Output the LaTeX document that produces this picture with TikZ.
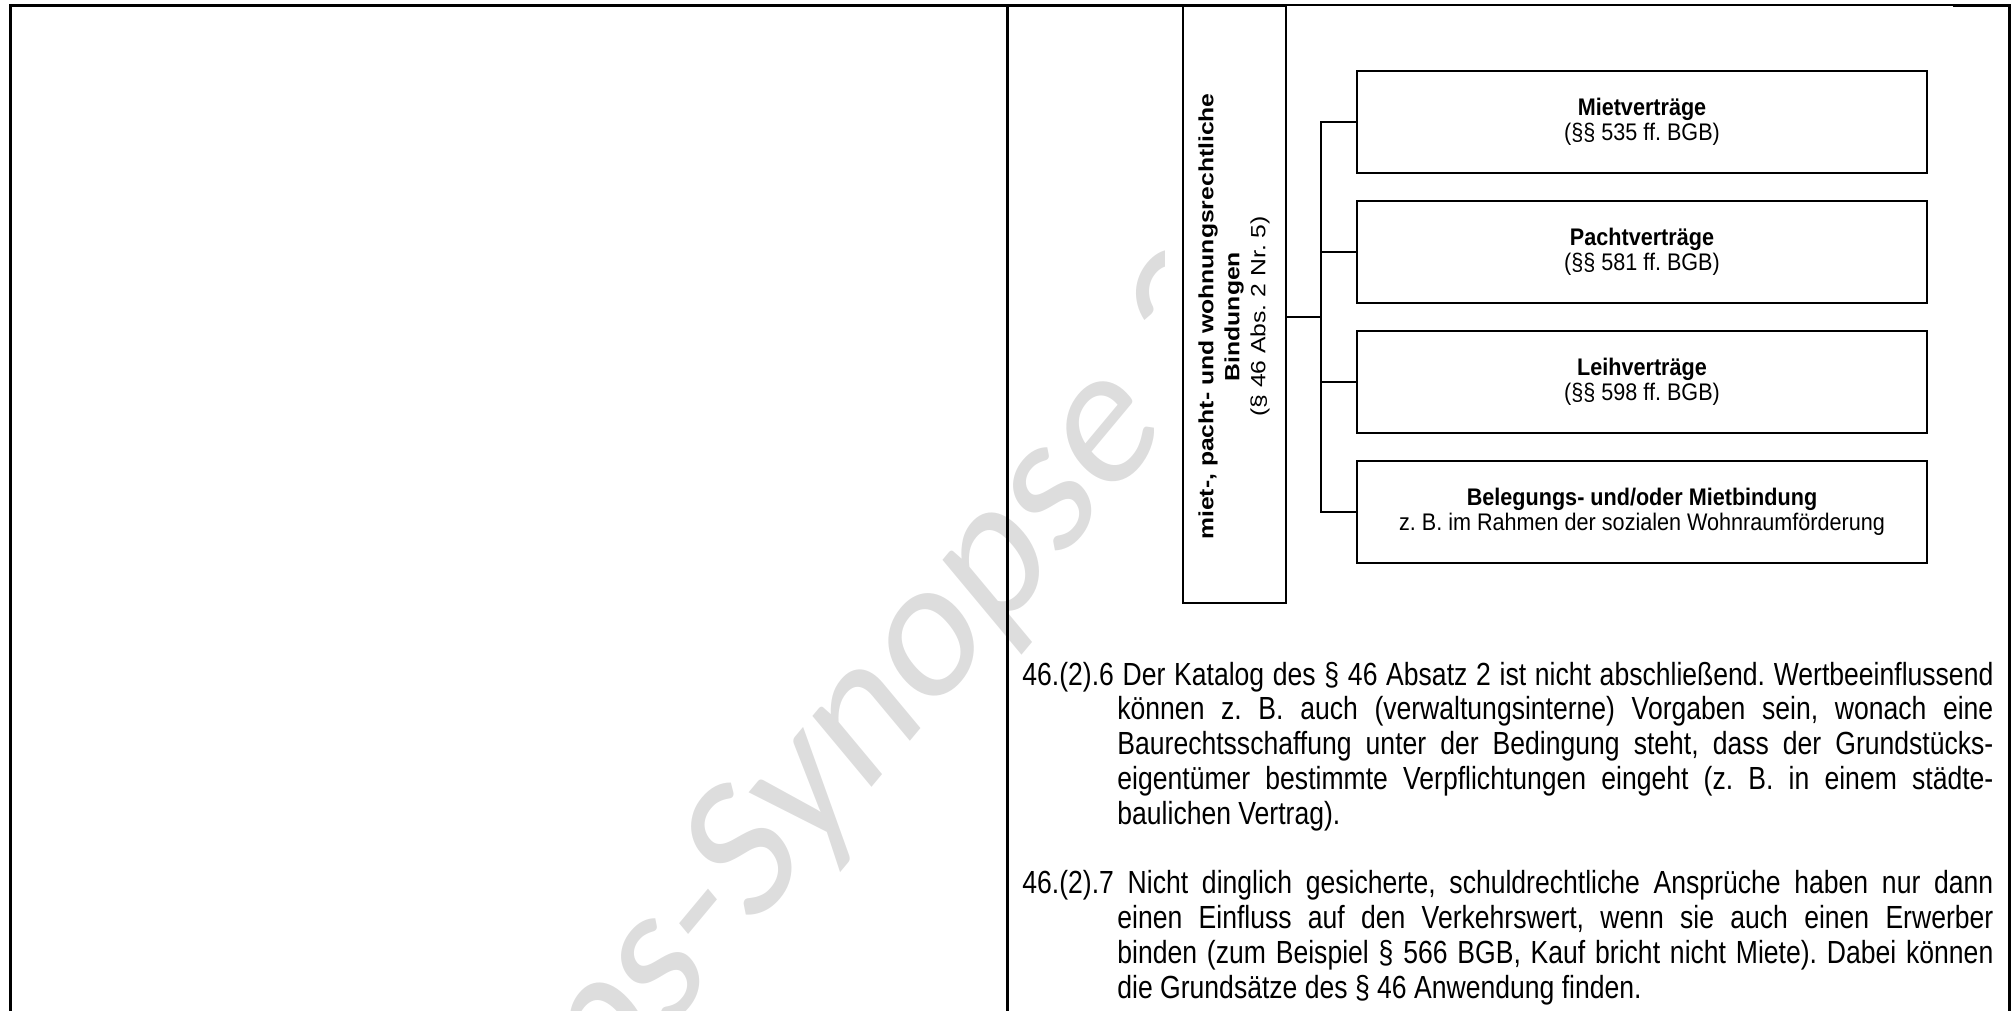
\documentclass[tikz,border=0pt]{standalone}
\usepackage{fontspec}
\setmainfont{Liberation Sans}[FakeStretch=0.83]
\newfontfamily\boxfont{Liberation Sans}[FakeStretch=0.9]
\newfontfamily\rotfont{Liberation Sans}[FakeStretch=1.2]
\newfontfamily\wmfont{Carlito}
\definecolor{wm}{RGB}{221,221,221}
\frenchspacing
\tikzset{
  frameline/.style={line width=1.5pt},
  thinframe/.style={line width=0.7pt},
  branch/.style={draw, line width=1pt, fill=white, minimum width=285pt, minimum height=51pt, inner sep=0pt, align=center, font=\boxfont\fontsize{12}{12.75}\selectfont},
  conn/.style={line width=1pt},
  bodytext/.style={anchor=base west, inner sep=0pt, font=\fontsize{16}{17.4}\selectfont},
  watermark/.style={text=wm, inner sep=0pt, font=\wmfont\fontsize{87.5}{90}\selectfont},
}
\begin{document}
\begin{tikzpicture}[x=0.5pt,y=-0.5pt]
\useasboundingbox (0,0) rectangle (2013,1011);
\clip (0,0) rectangle (2013,1011);
% watermark (page image is stretched vertically)
\begin{scope}[yscale=1.2]
\node[watermark, rotate=45, anchor=base west, transform shape] (wm) at (601,926.7) {ps-Synopse 20};
\end{scope}
% white background of the diagram picture
\fill[white] (1165,9) rectangle (1940,615);
% frame
\draw[frameline] (10,1020) -- (10,6) -- (1183,6);
\draw[thinframe] (1183,5) -- (1953,5);
\draw[frameline] (1953,6) -- (2009,6) -- (2009,1020);
\draw[frameline] (1007,6) -- (1007,1020);
% tall box
\node[draw, line width=1pt, fill=white, minimum width=51.5pt, minimum height=298.5pt, inner sep=0pt] (tall) at (1234.5,304.5) {};
\node[rotate=90, align=center, inner sep=0pt, font=\rotfont\fontsize{10.3}{13}\selectfont] (talltext) at (1234,316.5)
  {\textbf{miet-, pacht- und wohnungsrechtliche}\\\textbf{Bindungen}\\(§ 46 Abs. 2 Nr. 5)};
% branch boxes
\node[branch] (box1) at (1642,122) {\textbf{Mietverträge}\\(§§ 535 ff. BGB)};
\node[branch] (box2) at (1642,252) {\textbf{Pachtverträge}\\(§§ 581 ff. BGB)};
\node[branch] (box3) at (1642,382) {\textbf{Leihverträge}\\(§§ 598 ff. BGB)};
\node[branch] (box4) at (1642,512) {\textbf{Belegungs- und/oder Mietbindung}\\z. B. im Rahmen der sozialen Wohnraumförderung};
% connectors
\coordinate (jt) at (1321,317);
\draw[conn] (tall.east |- jt) -- (jt);
\draw[conn] (box1.west) -| (jt);
\draw[conn] (box4.west) -| (jt);
\draw[conn] (box2.west) -- (box2.west -| jt);
\draw[conn] (box3.west) -- (box3.west -| jt);
% paragraphs
\node[bodytext] (p6) at (1022,685) {\parbox[t]{485.5pt}{%
\makebox[485.5pt][s]{46.(2).6 Der Katalog des § 46 Absatz 2 ist nicht abschließend. Wertbeeinflussend}\\
\hspace*{47.5pt}\makebox[438pt][s]{können z. B. auch (verwaltungsinterne) Vorgaben sein, wonach eine}\\
\hspace*{47.5pt}\makebox[438pt][s]{Baurechtsschaffung unter der Bedingung steht, dass der Grundstücks-}\\
\hspace*{47.5pt}\makebox[438pt][s]{eigentümer bestimmte Verpflichtungen eingeht (z. B. in einem städte-}\\
\hspace*{47.5pt}baulichen Vertrag).}};
\node[bodytext] (p7) at (1022,893.8) {\parbox[t]{485.5pt}{%
\makebox[485.5pt][s]{46.(2).7 Nicht dinglich gesicherte, schuldrechtliche Ansprüche haben nur dann}\\
\hspace*{47.5pt}\makebox[438pt][s]{einen Einfluss auf den Verkehrswert, wenn sie auch einen Erwerber}\\
\hspace*{47.5pt}\makebox[438pt][s]{binden (zum Beispiel § 566 BGB, Kauf bricht nicht Miete). Dabei können}\\
\hspace*{47.5pt}die Grundsätze des § 46 Anwendung finden.}};
\end{tikzpicture}
\end{document}
